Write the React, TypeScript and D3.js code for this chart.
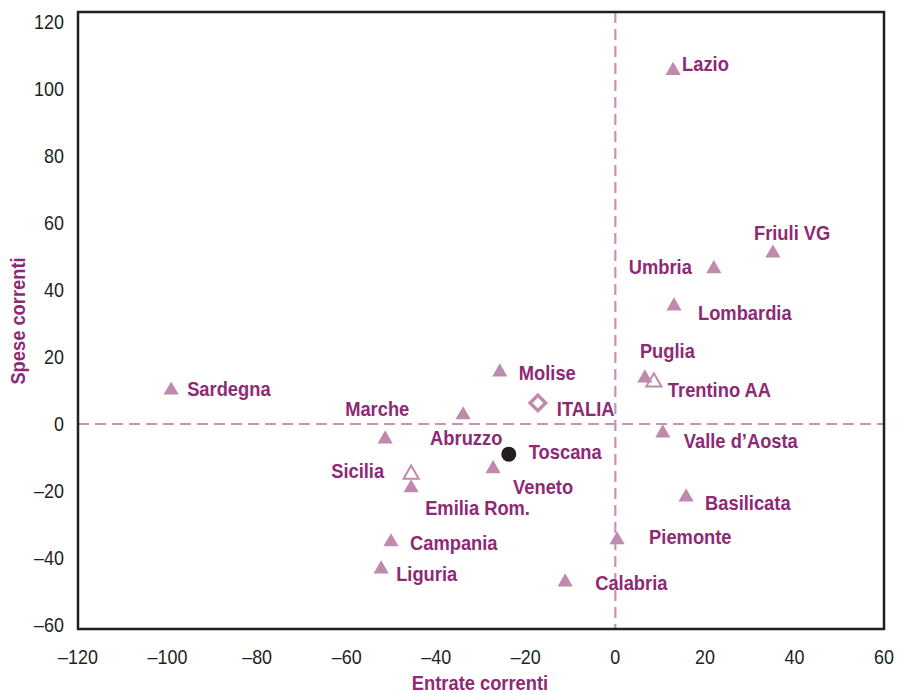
import React from "react";
import * as d3 from "d3";

const regions = ["Lazio","Friuli VG","Umbria","Lombardia","Trentino AA","Puglia","Valle d\u2019Aosta","Basilicata","Piemonte","Calabria","Molise","Abruzzo","Veneto","Marche","Sicilia","Emilia Rom.","Campania","Liguria","Sardegna","Toscana","ITALIA"];
const entrate = [12.9,35.2,22,13.1,8.6,6.6,10.6,15.8,0.4,-11.2,-25.8,-34,-27.3,-51.4,-45.6,-45.6,-50.1,-52.3,-99.2,-23.8,-17.3];
const spese = [105.5,51,46.3,35.2,12.5,13.7,-2.7,-21.8,-34.6,-47.2,15.5,2.7,-13.4,-4.5,-15,-19.1,-35.2,-43.3,10.1,-9,6.3];
const markers = ["tri","tri","tri","tri","triOpen","tri","tri","tri","tri","tri","tri","tri","tri","tri","triOpen","tri","tri","tri","tri","circle","diamond"];
// label offsets (dx, dy, anchor)
const labelDx = [9,-19,-22,24,14,-5,21,19,32,30,19,-33,20,-40,-27,14,19,15,16,20,19];
const labelDy = [-6,-20,-2,7,8,-27,8,6,-3,1,1,23,18,-30,-3,20,1,5,-1,-2,6];
const labelAnchor = ["start","start","end","start","start","start","start","start","start","start","start","start","start","start","end","start","start","start","start","start","start"];

const xTicks = [-120,-100,-80,-60,-40,-20,0,20,40,60];
const yTicks = [-60,-40,-20,0,20,40,60,80,100,120];

const W = 897, H = 694;
const purple = "#8E2A75";
const pink = "#C08AAE";
const dashCol = "#C594B6";
const font = "'Liberation Sans',Arial,Helvetica,sans-serif";

function T(props: { x: number; y: number; anchor?: string; bold?: boolean; color?: string; sx?: number; rotate?: number; children: any }) {
  const { x, y, anchor = "start", bold = false, color = "#231F20", sx = 0.94, rotate = 0, children } = props;
  return (
    <g transform={`translate(${x},${y}) rotate(${rotate}) scale(${sx},1)`}>
      <text x={0} y={0} dy="0.35em" textAnchor={anchor} fontFamily={font} fontWeight={bold ? "bold" : "normal"} fontSize={19.5} fill={color}>
        {children}
      </text>
    </g>
  );
}

export default function App() {
  const x = d3.scaleLinear().domain([-120, 60]).range([78, 884]);
  const y = d3.scaleLinear().domain([-60, 120]).range([625, 22]);
  const frameTop = 12, frameBottom = 629, frameLeft = 78, frameRight = 884;
  const tri = d3.symbol().type(d3.symbolTriangle).size(100)();
  const sq = d3.symbol().type(d3.symbolSquare).size(120)();

  const markerEls = regions.map((r, i) => ({ r, i, open: markers[i] === "triOpen" }))
    .sort((a, b) => (a.open === b.open ? 0 : a.open ? -1 : 1))
    .map(({ r, i }) => {
      const px = x(entrate[i]), py = y(spese[i]);
      const m = markers[i];
      if (m === "tri") return <path key={r} d={tri} transform={`translate(${px},${py})`} fill={pink} />;
      if (m === "triOpen") return <path key={r} d={tri} transform={`translate(${px},${py})`} fill="#fff" stroke={pink} strokeWidth={2} />;
      if (m === "circle") return <circle key={r} cx={px} cy={py} r={7.5} fill="#231F20" />;
      return <path key={r} d={sq} transform={`translate(${px},${py}) rotate(45)`} fill="#fff" stroke={pink} strokeWidth={3.5} />;
    });

  return (
    <svg width={W} height={H} style={{ position: "absolute", left: 0, top: 0, background: "#fff" }}>
      <rect x={0} y={0} width={W} height={H} fill="#fff" />
      <line x1={frameLeft} x2={frameRight} y1={y(0)} y2={y(0)} stroke={dashCol} strokeWidth={2.2} strokeDasharray="11,6" />
      <line x1={x(0)} x2={x(0)} y1={frameTop} y2={frameBottom} stroke={dashCol} strokeWidth={2.2} strokeDasharray="11,6" />
      <rect x={frameLeft} y={frameTop} width={frameRight - frameLeft} height={frameBottom - frameTop} fill="none" stroke="#231F20" strokeWidth={2.5} />
      {yTicks.map((t) => (
        <T key={"y" + t} x={64} y={y(t)} anchor="end" sx={0.92}>
          {t < 0 ? "\u2013" + Math.abs(t) : String(t)}
        </T>
      ))}
      {xTicks.map((t) => (
        <T key={"x" + t} x={x(t)} y={657} anchor="middle" sx={0.92}>
          {t < 0 ? "\u2013" + Math.abs(t) : String(t)}
        </T>
      ))}
      <T x={480} y={683} anchor="middle" bold color={purple}>Entrate correnti</T>
      <T x={18} y={321} anchor="middle" bold color={purple} rotate={-90}>Spese correnti</T>
      {markerEls}
      {regions.map((r, i) => (
        <T key={"l" + r} x={x(entrate[i]) + labelDx[i]} y={y(spese[i]) + labelDy[i]} anchor={labelAnchor[i]} bold color={purple}>
          {r}
        </T>
      ))}
    </svg>
  );
}
